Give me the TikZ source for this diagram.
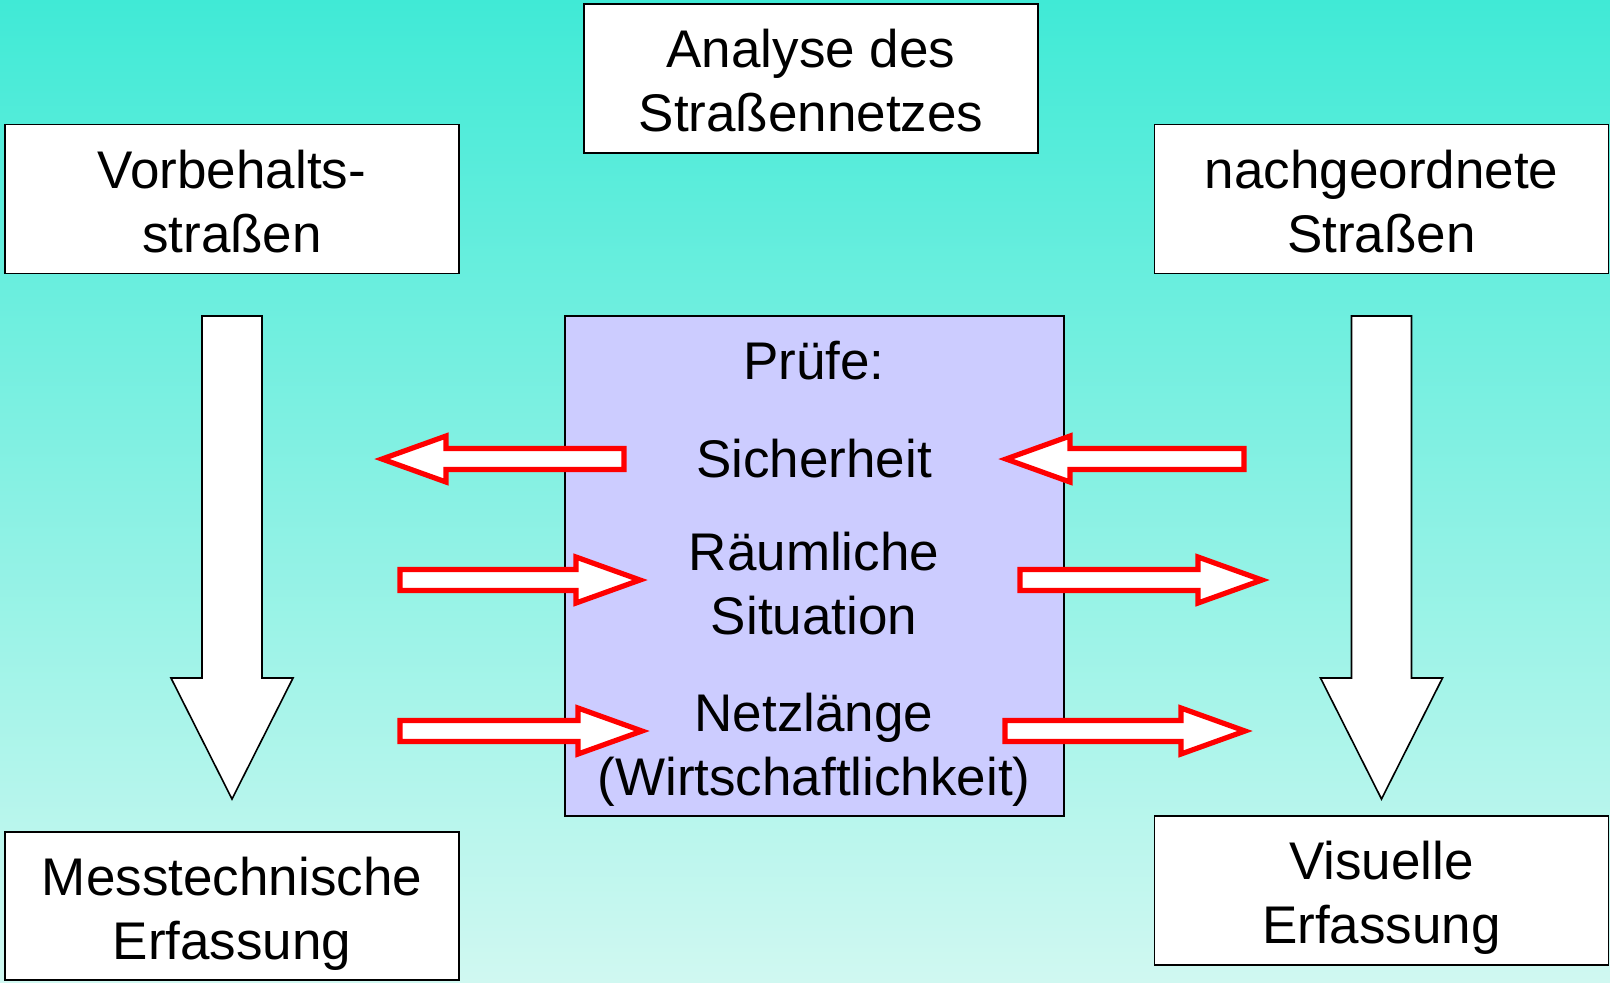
\documentclass[tikz,border=0pt]{standalone}
\usepackage{fontspec}
\setmainfont{Liberation Sans}
\usetikzlibrary{positioning}
\definecolor{bgtop}{RGB}{64,234,214}
\definecolor{bgbot}{RGB}{208,248,241}
\definecolor{pruefblau}{RGB}{204,204,255}

\begin{document}
\begin{tikzpicture}[x=0.5pt,y=-0.5pt,font=\fontsize{26.5}{32}\selectfont,
 box/.style={draw,line width=0.8pt,fill=white,minimum width=227pt,minimum height=74.5pt,align=center,inner sep=0pt,text height=53.2pt,text depth=0pt},
 txt/.style={align=center,inner sep=0pt},
 redarrow/.style={draw=red,line width=2.6pt,fill=white},
 downarrow/.style={draw=black,line width=0.8pt,fill=white}]
\useasboundingbox (0,0) rectangle (1610,982);
\shade[top color=bgtop,bottom color=bgbot] (0,0) rectangle (1610,982);
\node[box] (ana) at (811,78.5) {Analyse des\\Straßennetzes};
\node[box] (vor) at (232,199) {Vorbehalts-\\straßen};
\node[box] (nach) at (1381.5,199) {nachgeordnete\\Straßen};
\node[box,minimum height=74pt] (mess) at (232,906) {Messtechnische\\Erfassung};
\node[box] (vis) at (1381.5,890.5) {Visuelle\\Erfassung};
\node[draw,line width=0.8pt,fill=pruefblau,minimum width=249.5pt,minimum height=250pt,inner sep=0pt] (pruef) at (814.5,566) {};
\node[txt] (pr) at (814,361) {Prüfe:};
\node[txt] (si) at (814,459) {Sicherheit};
\node[txt] (rs) at (814,584) {Räumliche\\Situation};
\node[txt] (nl) at (814,749.5) {Netzlänge\\(Wirtschaftlichkeit)};
% big white arrows down the sides
\foreach \x in {232,1381.5}
 \draw[downarrow] (\x-30,316) -- (\x+30,316) -- (\x+30,678) -- (\x+61,678) -- (\x,799)
  -- (\x-61,678) -- (\x-30,678) -- cycle;
% red arrows: tail/head base/tip/y
\foreach \t/\b/\p/\y in {624/446/382/459,1244/1070/1006/459,400/576/640/580,
  1020/1198/1262/580,400/578/642/731,1005/1181/1245/731}
 \draw[redarrow] (\t,\y-10.5) -- (\b,\y-10.5) -- (\b,\y-23) -- (\p,\y) -- (\b,\y+23)
  -- (\b,\y+10.5) -- (\t,\y+10.5) -- cycle;
\end{tikzpicture}
\end{document}
